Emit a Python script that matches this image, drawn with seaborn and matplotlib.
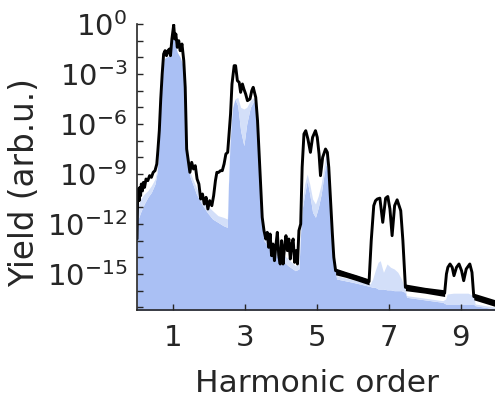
import numpy as np
import pandas as pd
import matplotlib
matplotlib.use("Agg")
import matplotlib.pyplot as plt
import seaborn as sns
from matplotlib.ticker import FixedLocator, NullFormatter

# ---------------- data ----------------
# black spectrum: harmonic order and log10(yield)
black_h = [0.00, 0.02, 0.04, 0.06, 0.08, 0.10, 0.12, 0.15, 0.18, 0.21, 0.25, 0.30, 0.35, 0.40,
           0.45, 0.50, 0.55, 0.58, 0.62, 0.66, 0.70, 0.74, 0.78, 0.82, 0.86, 0.90, 0.93, 0.97,
           1.00, 1.02, 1.05, 1.08, 1.12, 1.16, 1.20, 1.25, 1.30, 1.34, 1.38, 1.43, 1.47, 1.52,
           1.57, 1.62, 1.67, 1.72, 1.77, 1.82, 1.87, 1.92, 1.97, 2.02, 2.08, 2.13, 2.18, 2.22,
           2.27, 2.32, 2.37, 2.42, 2.47, 2.52, 2.57, 2.60, 2.64, 2.70, 2.74, 2.79, 2.84, 2.88,
           2.93, 2.97, 3.02, 3.07, 3.14, 3.19, 3.23, 3.30, 3.35, 3.39, 3.44, 3.48, 3.53, 3.58,
           3.62, 3.66, 3.70, 3.74, 3.78, 3.82, 3.86, 3.90, 3.94, 3.98, 4.02, 4.06, 4.10, 4.14,
           4.18, 4.22, 4.26, 4.30, 4.34, 4.38, 4.42, 4.46, 4.50, 4.55, 4.59, 4.64, 4.69, 4.75,
           4.82, 4.88, 4.96, 5.01, 5.06, 5.10, 5.16, 5.24, 5.29, 5.33, 5.38, 5.43, 5.47, 5.52,
           5.80, 6.10, 6.45, 6.51, 6.58, 6.63, 6.68, 6.75, 6.83, 6.91, 6.97, 7.03, 7.09, 7.16,
           7.23, 7.33, 7.39, 7.46, 8.00, 8.55, 8.60, 8.64, 8.70, 8.76, 8.81, 8.88, 8.95, 9.02,
           9.08, 9.15, 9.25, 9.31, 9.36, 9.96]
black_log10 = [-12.9, -10.0, -9.9, -10.6, -9.8, -10.3, -9.6, -10.0, -9.5, -9.8, -9.3, -9.4, -9.1, -9.2,
               -8.9, -8.8, -8.4, -7.6, -6.4, -4.5, -3.0, -1.8, -1.6, -1.9, -1.6, -1.5, -1.9, -0.9,
               -0.4, -0.05, -0.9, -0.6, -1.4, -1.0, -1.6, -1.2, -2.2, -3.8, -7.5, -8.3, -8.9, -8.3,
               -8.7, -8.5, -9.3, -9.6, -10.5, -10.2, -10.8, -10.4, -11.1, -10.6, -10.9, -10.3, -9.4, -8.9,
               -8.9, -8.8, -8.8, -8.4, -7.8, -7.7, -6.3, -5.4, -3.6, -2.5, -2.5, -3.4, -3.5, -4.1,
               -3.6, -3.9, -4.2, -4.6, -4.5, -4.0, -3.8, -4.4, -5.8, -7.6, -9.8, -11.6, -12.4, -12.9,
               -12.5, -13.4, -12.6, -13.9, -13.2, -14.2, -13.3, -12.5, -13.9, -14.4, -13.0, -14.4, -13.4, -12.7,
               -13.6, -12.9, -14.1, -13.2, -12.9, -14.3, -13.6, -14.4, -12.4, -12.0, -8.6, -6.6, -6.4, -6.9,
               -7.7, -6.8, -6.4, -6.8, -7.8, -9.1, -8.0, -7.5, -7.7, -8.6, -10.6, -12.6, -14.0, -14.8,
               -15.0, -15.2, -15.45, -13.0, -10.9, -10.6, -10.5, -10.45, -11.9, -10.45, -10.35, -11.1, -12.7, -10.9,
               -10.55, -11.2, -13.0, -15.8, -15.95, -16.15, -15.0, -14.6, -14.4, -14.6, -15.1, -14.6, -14.4, -14.8,
               -15.4, -14.7, -14.4, -14.9, -16.35, -16.75]

# thick black bands (dense oscillation) on the flat stretches
band1_h = [5.52, 5.80, 6.10, 6.45]
band1_top = [-14.65, -14.85, -15.05, -15.3]
band1_bot = [-15.05, -15.2, -15.4, -15.65]
band2_h = [7.46, 8.00, 8.55]
band2_top = [-15.6, -15.8, -15.95]
band2_bot = [-16.0, -16.15, -16.35]
band3_h = [9.36, 9.96]
band3_top = [-16.15, -16.55]
band3_bot = [-16.55, -16.95]

# blue filled spectrum: upper envelope and solid (lower) envelope, log10(yield)
blue_h = [0.00, 0.05, 0.10, 0.20, 0.30, 0.40, 0.50, 0.56, 0.60, 0.65, 0.70, 0.75, 0.80, 0.90,
          0.97, 1.01, 1.06, 1.12, 1.20, 1.28, 1.33, 1.37, 1.42, 1.48, 1.55, 1.65, 1.80, 1.95,
          2.10, 2.25, 2.40, 2.51, 2.54, 2.58, 2.62, 2.66, 2.72, 2.80, 2.88, 2.97, 3.05, 3.15,
          3.25, 3.32, 3.38, 3.44, 3.48, 3.53, 3.80, 4.00, 4.20, 4.40, 4.50, 4.55, 4.60, 4.66,
          4.73, 4.80, 4.88, 4.96, 5.04, 5.12, 5.20, 5.25, 5.32, 5.38, 5.43, 5.48, 5.55, 6.00,
          6.48, 6.55, 6.62, 6.70, 6.76, 6.85, 6.95, 7.05, 7.15, 7.25, 7.35, 7.45, 7.50, 8.50,
          8.58, 8.62, 8.80, 9.00, 9.20, 9.35, 9.40, 9.96]
blue_top = [-11.0, -10.8, -10.5, -10.2, -10.0, -9.7, -9.3, -8.7, -7.6, -5.4, -3.4, -2.1, -2.0, -1.9,
            -1.3, -0.6, -1.2, -1.7, -2.0, -2.5, -4.2, -7.6, -8.5, -8.9, -9.3, -9.8, -10.4, -10.9,
            -11.2, -11.5, -11.6, -11.7, -9.6, -7.2, -5.8, -5.0, -4.5, -4.4, -5.0, -5.1, -5.0, -4.6,
            -4.4, -4.9, -6.8, -9.8, -11.4, -12.8, -13.4, -13.7, -14.1, -14.5, -14.4, -12.2, -10.5, -9.6,
            -9.0, -9.6, -10.5, -10.8, -10.3, -9.6, -8.5, -7.8, -8.4, -10.5, -12.6, -14.3, -15.1, -15.35,
            -15.6, -15.3, -14.8, -14.3, -14.2, -14.9, -14.4, -14.6, -14.7, -14.9, -15.3, -15.9, -16.3, -16.6,
            -16.5, -16.2, -16.15, -16.15, -16.15, -16.3, -16.8, -17.0]
blue_solid = [-11.8, -11.6, -11.3, -10.8, -10.4, -10.1, -9.6, -8.9, -7.7, -5.4, -3.4, -2.1, -2.0, -1.9,
              -1.3, -0.6, -1.2, -1.7, -2.0, -2.5, -4.2, -7.6, -8.6, -9.2, -9.6, -10.2, -10.8, -11.3,
              -11.7, -11.9, -12.1, -12.2, -9.8, -7.4, -5.9, -5.0, -4.5, -4.9, -6.4, -7.3, -6.0, -5.0,
              -4.6, -5.0, -6.9, -9.9, -11.6, -13.0, -13.8, -14.1, -14.5, -14.8, -14.7, -12.4, -11.0, -10.2,
              -9.4, -10.2, -11.3, -11.6, -11.0, -10.2, -9.0, -8.4, -9.0, -10.7, -12.8, -14.5, -15.3, -15.5,
              -15.75, -15.8, -15.8, -15.9, -15.9, -15.9, -15.95, -15.95, -16.0, -16.0, -16.0, -16.1, -16.4, -16.7,
              -16.8, -16.8, -16.8, -16.8, -16.8, -16.8, -16.9, -17.1]

x_ticks = [1, 3, 5, 7, 9]
y_major_exp = [0, -3, -6, -9, -12, -15]
y_minor_exp = list(range(-17, 1))

# ---------------- styling ----------------
sns.set_theme(style="white")
plt.rcParams["font.family"] = ["DejaVu Sans"]
plt.rcParams["mathtext.fontset"] = "dejavusans"

TXT = "#262626"
BLUE = "#aac0f4"
BLUE_LIGHT = "#d3dff9"
FS_TICK = 21
FS_X = 22.5
FS_Y = 23.5

fig = plt.figure(figsize=(4.95, 3.97), dpi=100)
ax = fig.add_axes([137 / 495, 87 / 397, 358 / 495, 286 / 397])
ax.set_axisbelow(False)

bh = np.array(blue_h)
bottom = np.full(len(bh), 1e-18)
ax.fill_between(bh, bottom, 10 ** np.array(blue_solid), color=BLUE, lw=0, zorder=1)
ax.fill_between(bh, 10 ** np.array(blue_solid), 10 ** np.array(blue_top), color=BLUE_LIGHT, lw=0, zorder=1)

for hh, tt, bb in [(band1_h, band1_top, band1_bot), (band2_h, band2_top, band2_bot),
                   (band3_h, band3_top, band3_bot)]:
    ax.fill_between(hh, 10 ** np.array(bb), 10 ** np.array(tt), color="black", lw=0, zorder=3)

df = pd.DataFrame({"h": black_h, "yield": 10 ** np.array(black_log10)})
sns.lineplot(data=df, x="h", y="yield", color="black", lw=2.1, estimator=None, sort=False,
             ax=ax, zorder=4)

ax.set_yscale("log")
ax.set_xlim(0, 9.95)
ax.set_ylim(10 ** -17.16, 10 ** 0)

ax.xaxis.set_major_locator(FixedLocator(x_ticks))
ax.set_xticklabels([str(t) for t in x_ticks])
ax.yaxis.set_major_locator(FixedLocator([10.0 ** e for e in y_major_exp]))
ax.set_yticklabels([r"$\mathregular{10^{%d}}$" % e for e in y_major_exp])
ax.yaxis.set_minor_locator(FixedLocator([10.0 ** e for e in y_minor_exp]))
ax.yaxis.set_minor_formatter(NullFormatter())

for s in ["top", "right"]:
    ax.spines[s].set_visible(False)
for s in ["left", "bottom"]:
    ax.spines[s].set_color(TXT)
    ax.spines[s].set_linewidth(1.2)
    ax.spines[s].set_zorder(5)

ax.tick_params(axis="both", which="both", direction="in", length=4, width=1, color=TXT,
               labelcolor=TXT, labelsize=FS_TICK, left=True, bottom=True,
               right=False, top=False)
ax.tick_params(axis="x", which="minor", bottom=False)
ax.tick_params(axis="x", pad=10)
ax.tick_params(axis="y", pad=7)
ax.set_xlabel("")
ax.set_ylabel("")

fig.text(317 / 495, 1 - 391.5 / 397, "Harmonic order", ha="center", va="baseline",
         fontsize=FS_X, color=TXT)
fig.text(25 / 495, 1 - 182.5 / 397, "Yield (arb.u.)", ha="center", va="center",
         rotation=90, fontsize=FS_Y, color=TXT)

fig.savefig("out.png", dpi=100)
